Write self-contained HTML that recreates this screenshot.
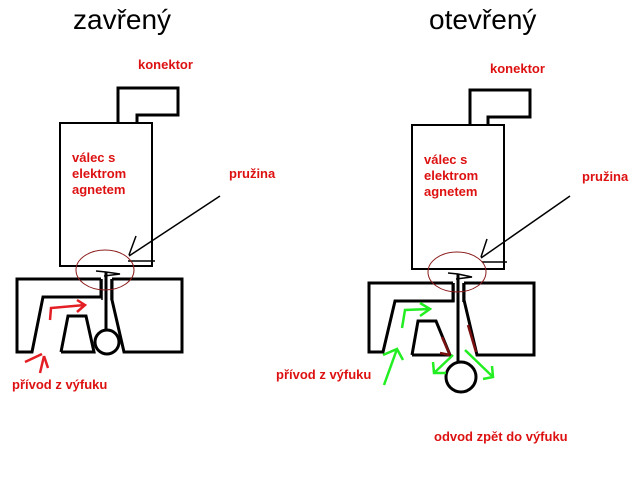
<!DOCTYPE html>
<html><head><meta charset="utf-8"><style>
html,body{margin:0;padding:0;background:#fff;}
svg{display:block;}
.t{font-family:"Liberation Sans",sans-serif;font-size:28px;fill:#000;}
.r{font-family:"Liberation Sans",sans-serif;font-size:13px;font-weight:bold;fill:#dd1111;}
</style></head><body>
<svg width="644" height="502" viewBox="0 0 644 502" xmlns="http://www.w3.org/2000/svg">
<text class="t" x="73" y="29">zavřený</text>
<text class="t" x="429" y="29">otevřený</text>
<text class="r" x="138" y="69">konektor</text>
<text class="r" x="490" y="73">konektor</text>
<text class="r" x="72" y="162">válec s</text>
<text class="r" x="72" y="178">elektrom</text>
<text class="r" x="72" y="194">agnetem</text>
<text class="r" x="424" y="164">válec s</text>
<text class="r" x="424" y="180">elektrom</text>
<text class="r" x="424" y="196">agnetem</text>
<text class="r" x="229" y="178">pružina</text>
<text class="r" x="582" y="181">pružina</text>
<text class="r" x="12" y="389">přívod z výfuku</text>
<text class="r" x="276" y="379">přívod z výfuku</text>
<text class="r" x="434" y="441">odvod zpět do výfuku</text>

<g fill="none" stroke="#000" stroke-width="3">
<polyline points="118,122 118,88 178,88 178,115 137,115 137,122"/>
<rect x="60" y="123" width="92" height="143" stroke-width="2"/>
<polyline points="101,279 17,279 17,352 32,352 43,297 101,297 101,279"/>
<polyline points="112,279 182,279 182,352 124,352 112,300 112,279"/>
<polyline points="61,352 68,316 86,316 94,352 61,352"/>
<line x1="106" y1="272" x2="106" y2="330"/>
<circle cx="107" cy="342" r="12"/>
<polyline points="470,125 470,90 530,90 530,117 488,117 488,125"/>
<rect x="412" y="125" width="92" height="144" stroke-width="2"/>
<polyline points="453,283 369,283 369,352 383,352 395,301 453,301 453,283"/>
<polyline points="464,283 534,283 534,355 477,355 464,300 464,283"/>
<polyline points="412,355 418,321 436,321 450,355 412,355"/>
<line x1="458" y1="274" x2="458" y2="362"/>
<circle cx="461" cy="377" r="15"/>
</g>
<g fill="none" stroke="#000" stroke-width="1.5">
<line x1="102" y1="279" x2="102" y2="300"/><line x1="111" y1="279" x2="111" y2="300"/>
<polyline points="96,271 106,272 120,274 104,276"/>
<line x1="128" y1="261" x2="155" y2="261"/>
<line x1="129" y1="255" x2="136" y2="236"/>
<line x1="129" y1="256" x2="220" y2="196"/>
<line x1="454" y1="283" x2="454" y2="302"/><line x1="463" y1="283" x2="463" y2="302"/>
<polyline points="448,273 458,274 472,277 456,279"/>
<line x1="482" y1="262" x2="507" y2="262"/>
<line x1="481" y1="257" x2="487" y2="239"/>
<line x1="481" y1="258" x2="570" y2="196"/>
</g>
<ellipse cx="105" cy="270" rx="29" ry="20" fill="none" stroke="#8b1a1a" stroke-width="1"/>
<ellipse cx="457" cy="272" rx="29" ry="20" fill="none" stroke="#8b1a1a" stroke-width="1"/>
<g fill="none" stroke="#e31e24" stroke-width="2.5">
<polyline points="50,320 51,308 85,305"/>
<polyline points="77,300 85,305 77,312"/>
<line x1="25" y1="362" x2="42" y2="354"/>
<line x1="40" y1="373" x2="44" y2="356"/>
<line x1="44" y1="356" x2="48" y2="368"/>
</g>
<g stroke="#7a1010" stroke-width="2.5">
<line x1="442" y1="337" x2="450" y2="355"/>
<line x1="468" y1="325" x2="476" y2="352"/>
<line x1="440" y1="353" x2="450" y2="355"/>
</g>
<g fill="none" stroke="#22ee22" stroke-width="2.5">
<polyline points="402,328 405,310 430,309"/>
<polyline points="420,303 430,309 420,316"/>
<line x1="384" y1="385" x2="397" y2="349"/>
<polyline points="383,355 397,349 403,360"/>
<line x1="453" y1="355" x2="434" y2="373"/>
<polyline points="433,362 434,373 446,373"/>
<line x1="465" y1="350" x2="493" y2="377"/>
<polyline points="483,379 493,377 492,366"/>
</g>
</svg>
</body></html>
